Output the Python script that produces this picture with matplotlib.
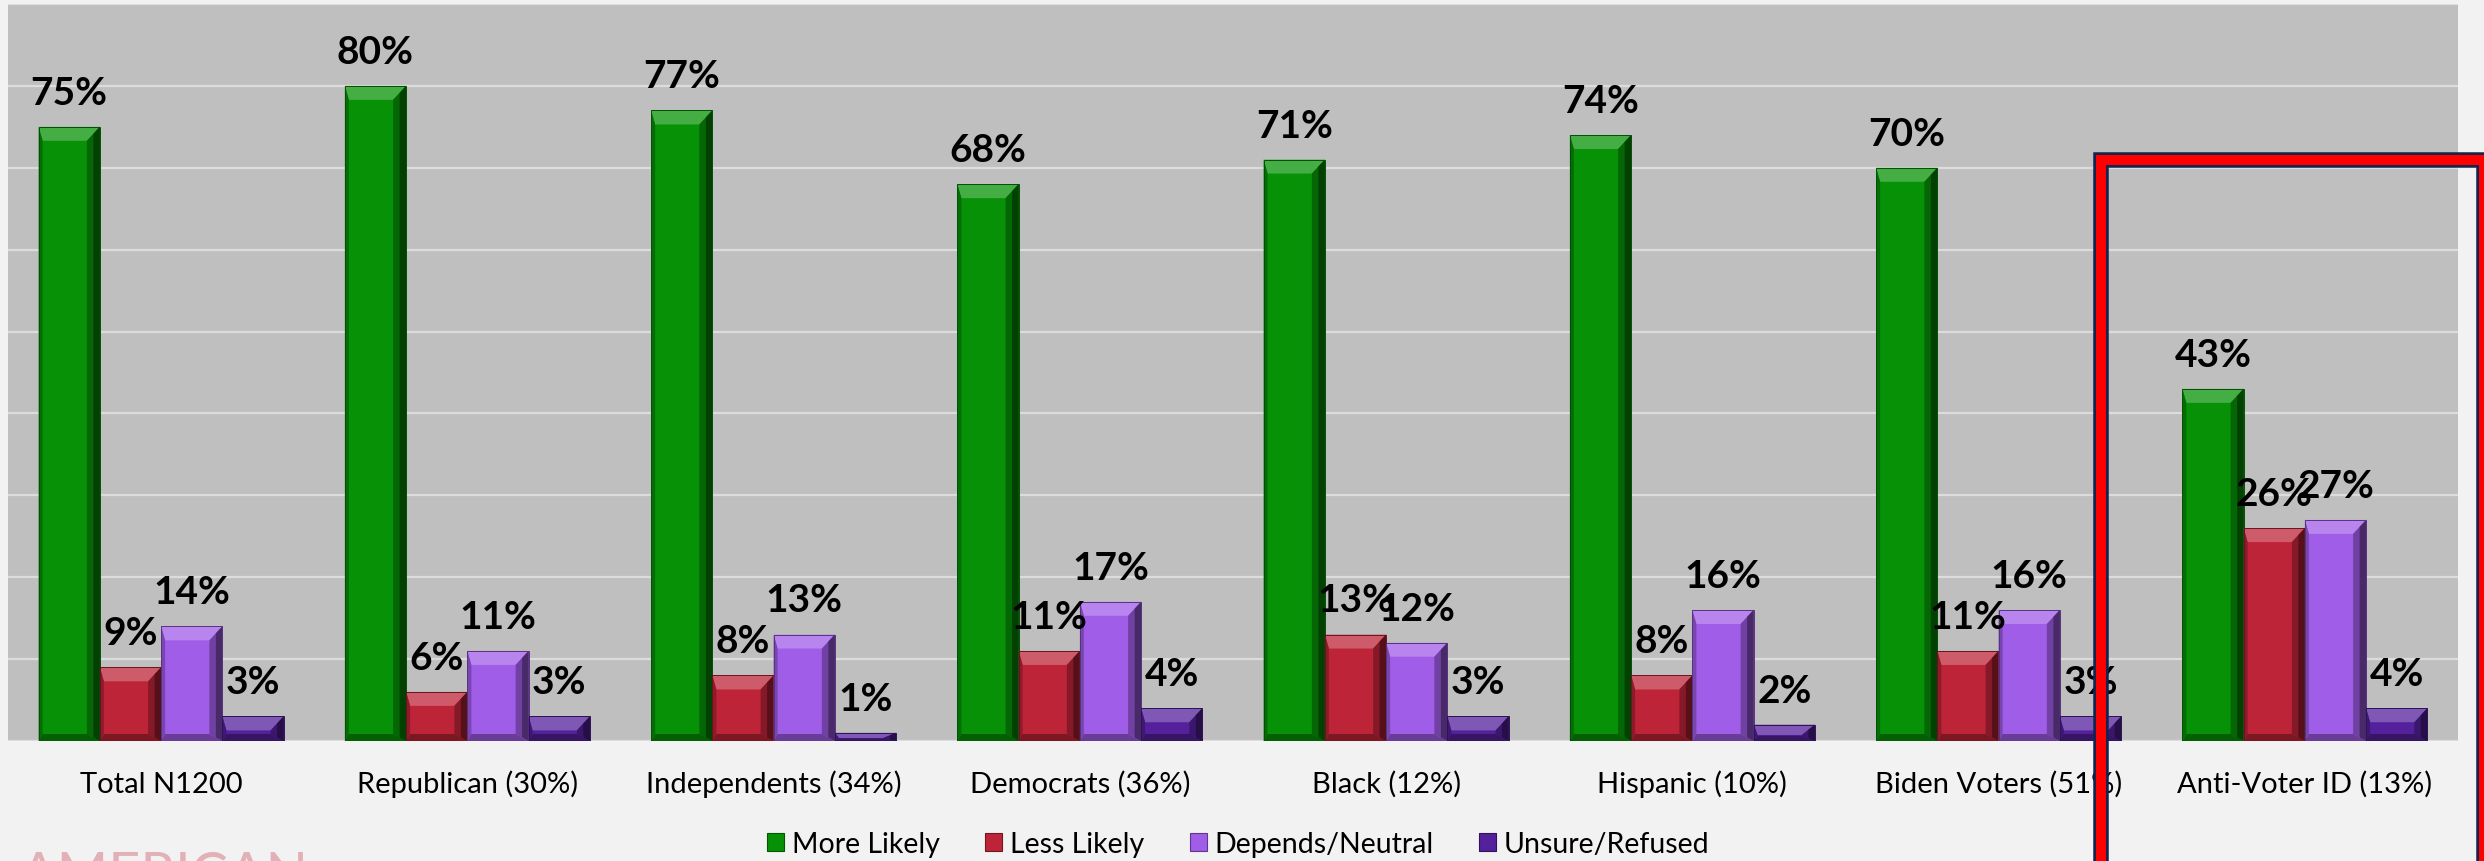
import matplotlib
matplotlib.use("Agg")
import matplotlib.pyplot as plt
import numpy as np
from matplotlib.patches import Polygon, Rectangle
from matplotlib.colors import to_rgb

# ---------------- data ----------------
categories = ["Total N1200", "Republican (30%)", "Independents (34%)", "Democrats (36%)",
              "Black (12%)", "Hispanic (10%)", "Biden Voters (51%)", "Anti-Voter ID (13%)"]
series_names = ["More Likely", "Less Likely", "Depends/Neutral", "Unsure/Refused"]
more_likely = [75, 80, 77, 68, 71, 74, 70, 43]
less_likely = [9, 6, 8, 11, 13, 8, 11, 26]
depends_neutral = [14, 11, 13, 17, 12, 16, 16, 27]
unsure_refused = [3, 3, 1, 4, 3, 2, 3, 4]
series_values = [more_likely, less_likely, depends_neutral, unsure_refused]
series_colors = ["#069106", "#be2438", "#a05de8", "#54209c"]

FONT = ["Lato", "DejaVu Sans"]
plt.rcParams["font.family"] = FONT

W, H = 2484, 862
fig = plt.figure(figsize=(W / 100, H / 100), dpi=100, facecolor="#f2f2f2")
ax = fig.add_axes([8 / W, 1 - 742 / H, (2458 - 8) / W, (742 - 5) / H])
ax.set_facecolor("#bfbfbf")
ax.set_xlim(-0.5, len(categories) - 0.5)
ax.set_ylim(0, 90)
ax.set_yticks(np.arange(0, 91, 10))
ax.yaxis.grid(True, color="#dcdcdc", linewidth=1.6)
ax.set_axisbelow(True)
ax.tick_params(axis="y", left=False, labelleft=False)
for s in ax.spines.values():
    s.set_visible(False)

x = np.arange(len(categories))
bw = 0.2

# pixel -> data conversion
p0 = ax.transData.transform((0, 0))
p1 = ax.transData.transform((1, 1))
px_x = p1[0] - p0[0]
px_y = p1[1] - p0[1]


def mix(c, other, f):
    c = np.array(to_rgb(c))
    o = np.array(to_rgb(other))
    return tuple(c * (1 - f) + o * f)


def bevel_bar(xc, v, color):
    x0, x1 = xc - bw / 2, xc + bw / 2
    y0, y1 = 0, v
    hpx = v * px_y
    tpx, bpx = 14.0, 7.0
    if hpx < (tpx + bpx) * 1.05:
        sc = hpx / ((tpx + bpx) * 1.05)
        tpx, bpx = tpx * sc, bpx * sc
    t, b = tpx / px_y, bpx / px_y
    l, r = 4 / px_x, 13 / px_x
    ax.add_patch(Rectangle((x0, y0), bw, v, facecolor=color, edgecolor="none", zorder=2))
    ax.add_patch(Polygon([(x0, y1), (x1, y1), (x1 - r, y1 - t), (x0 + l, y1 - t)],
                         closed=True, facecolor=mix(color, "white", 0.25), edgecolor="none", zorder=3))
    ax.add_patch(Polygon([(x1, y1), (x1, y0), (x1 - r, y0 + b), (x1 - r, y1 - t)],
                         closed=True, facecolor=mix(color, "black", 0.30), edgecolor="none", zorder=3))
    ax.add_patch(Polygon([(x1, y1), (x1, y0), (x1 - r / 2, y0 + b / 2), (x1 - r / 2, y1 - t / 2)],
                         closed=True, facecolor=mix(color, "black", 0.55), edgecolor="none", zorder=3))
    ax.add_patch(Polygon([(x0, y0), (x1, y0), (x1 - r, y0 + b), (x0 + l, y0 + b)],
                         closed=True, facecolor=mix(color, "black", 0.35), edgecolor="none", zorder=3))
    ax.add_patch(Polygon([(x0, y1), (x0, y0), (x0 + l, y0 + b), (x0 + l, y1 - t)],
                         closed=True, facecolor=mix(color, "black", 0.25), edgecolor="none", zorder=3))
    ax.add_patch(Rectangle((x0, y0), bw, v, facecolor="none",
                           edgecolor=mix(color, "black", 0.45), linewidth=0.7, zorder=4))


handles = []
for i, (name, vals, col) in enumerate(zip(series_names, series_values, series_colors)):
    xs = x - 1.5 * bw + i * bw
    for xc, v in zip(xs, vals):
        bevel_bar(xc, v, col)
        ax.annotate(f"{v}%", xy=(xc, v), xytext=(0, 16.6), textcoords="offset points",
                    ha="center", va="baseline", fontsize=28, fontweight="bold",
                    color="black", zorder=6, annotation_clip=False)
    handles.append(Rectangle((0, 0), 1, 1, facecolor=col, edgecolor=mix(col, "black", 0.4),
                             linewidth=0.8, label=name))

ax.set_xticks(x)
ax.set_xticklabels(categories, fontsize=21)
ax.tick_params(axis="x", length=0, pad=36.7)
for lbl in ax.get_xticklabels():
    lbl.set_va("baseline")

fig.legend(handles=handles, loc="center", bbox_to_anchor=(1238.5 / W, 1 - 845 / H),
           ncol=4, frameon=False, fontsize=20.5, handlelength=0.6, handleheight=0.63,
           handletextpad=0.28, columnspacing=1.58, borderpad=0, borderaxespad=0)

# watermark
fig.text(20 / W, 1 - 892 / H, "AMERICAN", fontsize=40, color="#e2b0b7",
         ha="left", va="baseline", family=FONT)

# red highlight box
rx0 = 2100.8 / W
ry1 = 1 - 160.8 / H
rx1 = 2483.8 / W
box_kw = dict(fill=False, transform=fig.transFigure, joinstyle="miter", clip_on=False)
fig.add_artist(Rectangle((rx0, -0.05), rx1 - rx0, ry1 + 0.05, edgecolor="#14234f",
                         linewidth=15.5 * 0.72, zorder=10, **box_kw))
fig.add_artist(Rectangle((rx0, -0.05), rx1 - rx0, ry1 + 0.05, edgecolor="#ff0000",
                         linewidth=10 * 0.72, zorder=11, **box_kw))

fig.savefig("out.png", dpi=100, facecolor=fig.get_facecolor())
